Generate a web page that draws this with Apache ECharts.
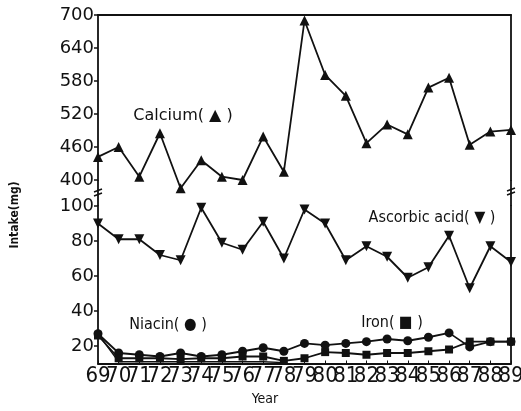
<!DOCTYPE html>
<html><head><meta charset="utf-8">
<script src="https://cdn.jsdelivr.net/npm/echarts@6/dist/echarts.min.js"></script>
<style>html,body{margin:0;padding:0;background:#fff}#c{width:521px;height:411px}</style>
</head><body><div id="c"></div>
<script>
const years = ['69','70','71','72','73','74','75','76','77','78','79','80','81','82','83','84','85','86','87','88','89'];
const calcium = [442,460,406,485,385,436,406,400,479,415,690,591,553,467,501,483,568,586,464,488,491];
const ascorbic = [90,81,81,72,69,99,79,75,91,70,98,90,69,77,71,59,65,83,53,77,68];
const niacin = [27,16,15,14,16,14,15,17,19,17,21.5,20.5,21.5,22.5,24,23,25,27.5,19.5,22.5,22.5];
const iron = [26,13,13,13,12.5,13,13,14,14,11.5,13,16.5,16,15,16,16,17,18,22.5,22.5,22.5];
const third = [27,11,11,11,11,11,11,11,11,10.5,null,null,null,null,null,null,null,null,null,null,null];
const upperTicks = [400,460,520,580,640,700];
const lowerTicks = [20,40,60,80,100];

const numFont = 'DejaVu Sans';
const L = 98, R = 10, W = 521 - L - R;
const chart = echarts.init(document.getElementById('c'), null, {renderer:'canvas'});
const black = '#111';
function yAx(grid, min, max, ticks, side, show) {
  return {
    type:'value', gridIndex:grid, min:min, max:max, position:side,
    axisLine:{show:true, onZero:false, lineStyle:{color:black,width:1.8}},
    axisTick:{show:show, length:4, inside:false, customValues:ticks, lineStyle:{color:black,width:1.5}},
    axisLabel:{show:show, customValues:ticks, color:black, fontFamily:numFont, fontSize:18, margin:4},
    splitLine:{show:false}
  };
}
function ser(name, data, yi, symbol, size, rot) {
  return {
    name:name, type:'line', xAxisIndex:yi<2?0:1, yAxisIndex:yi, data:data,
    symbol:symbol, symbolSize:size, symbolRotate:rot||0, clip:false,
    lineStyle:{color:black,width:1.8}, itemStyle:{color:black}, animation:false,
    connectNulls:false
  };
}
const txt = (x,y,t,fs,extra) => Object.assign({type:'text', x:x, y:y, style:{text:t, fill:black, font:fs, textAlign:'center', textVerticalAlign:'middle'}}, extra||{});
chart.setOption({
  animation:false,
  grid:[
    {left:L, width:W, top:15, height:165, outerBoundsMode:'none', containLabel:false},
    {left:L, width:W, top:206, height:157.5, outerBoundsMode:'none', containLabel:false}
  ],
  xAxis:[
    {type:'category', gridIndex:0, data:years, boundaryGap:false, position:'top',
     axisLine:{show:true, lineStyle:{color:black,width:1.8}}, axisTick:{show:false}, axisLabel:{show:false}},
    {type:'category', gridIndex:1, data:years, boundaryGap:false, position:'bottom',
     axisLine:{show:true, onZero:false, lineStyle:{color:black,width:2}},
     axisTick:{show:true, inside:true, length:3, lineStyle:{color:black}},
     axisLabel:{interval:0, hideOverlap:false, color:black, fontFamily:'Liberation Sans Narrow, DejaVu Sans Condensed, sans-serif', fontSize:22, margin:2}}
  ],
  yAxis:[
    yAx(0,400,700,upperTicks,'left',true),
    yAx(0,400,700,upperTicks,'right',false),
    yAx(1,10,100,lowerTicks,'left',true),
    yAx(1,10,100,lowerTicks,'right',false)
  ],
  series:[
    ser('Calcium', calcium, 0, 'triangle', 10),
    ser('Ascorbic acid', ascorbic, 2, 'triangle', 10, 180),
    ser('Niacin', niacin, 2, 'circle', 9),
    ser('Iron', iron, 2, 'rect', 8),
    Object.assign(ser('Other', third, 2, 'none', 0), {lineStyle:{color:black,width:1.3}})
  ],
  graphic:[
    {type:'line', shape:{x1:L, y1:180, x2:L, y2:206}, style:{stroke:black, lineWidth:1.8}},
    {type:'line', shape:{x1:L+W, y1:180, x2:L+W, y2:206}, style:{stroke:black, lineWidth:1.8}},
    {type:'line', shape:{x1:L-4, y1:192, x2:L+4, y2:189}, style:{stroke:black, lineWidth:1.5}},
    {type:'line', shape:{x1:L-4, y1:196, x2:L+4, y2:193}, style:{stroke:black, lineWidth:1.5}},
    {type:'line', shape:{x1:L+W-4, y1:191, x2:L+W+4, y2:188}, style:{stroke:black, lineWidth:1.5}},
    {type:'line', shape:{x1:L+W-4, y1:195, x2:L+W+4, y2:192}, style:{stroke:black, lineWidth:1.5}},
    txt(183,116,'Calcium( ▲ )','16px "DejaVu Sans"'),
    txt(432,218,'Ascorbic acid( ▼ )','16px "DejaVu Sans Condensed"'),
    txt(168,325,'Niacin( ● )','16px "DejaVu Sans Condensed"'),
    txt(392,323,'Iron( ■ )','16px "DejaVu Sans Condensed"'),
    txt(265,399,'Year','14px "DejaVu Sans Condensed"'),
    txt(15,215,'Intake(mg)','bold 12px "DejaVu Sans Condensed"',{rotation:Math.PI/2})
  ]
});
</script></body></html>
